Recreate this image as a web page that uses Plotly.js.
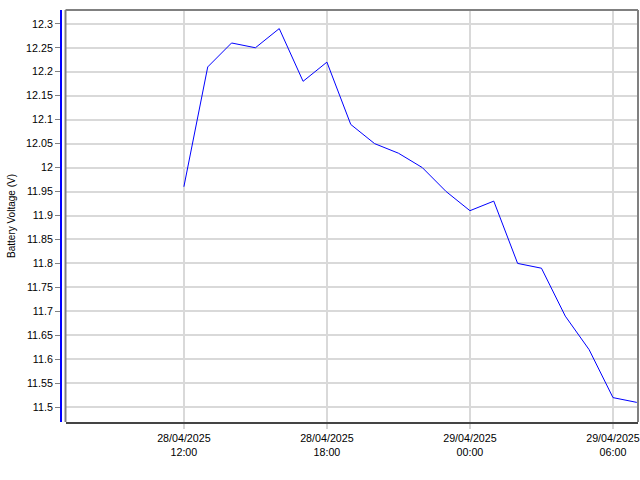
<!DOCTYPE html>
<html>
<head>
<meta charset="utf-8">
<script src="https://cdn.plot.ly/plotly-3.0.1.min.js"></script>
<style>html,body{margin:0;padding:0;background:#fff;}#chart{width:640px;height:480px;}</style>
</head>
<body>
<div id="chart"></div>
<script>
// Hourly battery voltage readings
const times = [
  '2025-04-28 12:00','2025-04-28 13:00','2025-04-28 14:00','2025-04-28 15:00',
  '2025-04-28 16:00','2025-04-28 17:00','2025-04-28 18:00','2025-04-28 19:00',
  '2025-04-28 20:00','2025-04-28 21:00','2025-04-28 22:00','2025-04-28 23:00',
  '2025-04-29 00:00','2025-04-29 01:00','2025-04-29 02:00','2025-04-29 03:00',
  '2025-04-29 04:00','2025-04-29 05:00','2025-04-29 06:00','2025-04-29 07:00'
];
const voltages = [
  11.96, 12.21, 12.26, 12.25,
  12.29, 12.18, 12.22, 12.09,
  12.05, 12.03, 12.00, 11.95,
  11.91, 11.93, 11.80, 11.79,
  11.69, 11.62, 11.52, 11.51
];
const xTickVals = ['2025-04-28 12:00','2025-04-28 18:00','2025-04-29 00:00','2025-04-29 06:00'];
const xTickText = ['28/04/2025<br>12:00','28/04/2025<br>18:00','29/04/2025<br>00:00','29/04/2025<br>06:00'];
const yTickVals = [11.5,11.55,11.6,11.65,11.7,11.75,11.8,11.85,11.9,11.95,12,12.05,12.1,12.15,12.2,12.25,12.3];
const yTickText = ['11.5','11.55','11.6','11.65','11.7','11.75','11.8','11.85','11.9','11.95','12','12.05','12.1','12.15','12.2','12.25','12.3'];
const xRange = ['2025-04-28 07:02','2025-04-29 07:03'];
const yRange = [11.4691, 12.3288];

const FONT = 'Liberation Sans, Arial, sans-serif';

const trace = {
  x: times, y: voltages, type: 'scatter', mode: 'lines',
  line: {color: '#0000ff', width: 1}, hoverinfo: 'skip'
};

const layout = {
  width: 640, height: 480,
  margin: {l: 61, r: 2, t: 10, b: 58, pad: 0},
  paper_bgcolor: '#ffffff', plot_bgcolor: '#ffffff',
  showlegend: false,
  font: {family: FONT, size: 10.7, color: '#000000'},
  xaxis: {
    type: 'date', range: xRange, domain: [0.0078, 1],
    tickmode: 'array', tickvals: xTickVals, ticktext: xTickText,
    ticks: 'outside', ticklen: 5, tickwidth: 2, tickcolor: '#d4d4d4',
    showgrid: true, gridcolor: '#d9d9d9', gridwidth: 2,
    showline: true, linecolor: '#444444', linewidth: 2,
    zeroline: false, tickfont: {family: FONT, size: 10.7, color: '#000'}
  },
  yaxis: {
    range: yRange, anchor: 'free', position: 0,
    tickmode: 'array', tickvals: yTickVals, ticktext: yTickText,
    ticks: 'outside', ticklen: 5, tickwidth: 1, tickcolor: '#808080',
    showgrid: true, gridcolor: '#d9d9d9', gridwidth: 2,
    showline: true, linecolor: '#0000ff', linewidth: 2,
    zeroline: false, tickfont: {family: FONT, size: 10.7, color: '#000'},
    title: {text: 'Battery Voltage (V)', font: {family: FONT, size: 10, color: '#000'}, standoff: 8}
  },
  shapes: [
    {type: 'line', xref: 'x domain', yref: 'paper', x0: 0, x1: 1, y0: 1, y1: 1, line: {color: '#808080', width: 2}},
    {type: 'line', xref: 'x domain', yref: 'paper', x0: 1, x1: 1, y0: 0, y1: 1, line: {color: '#808080', width: 2}},
    {type: 'line', xref: 'x domain', yref: 'paper', x0: 0, x1: 0, y0: 0, y1: 1, line: {color: '#808080', width: 2}}
  ]
};

Plotly.newPlot('chart', [trace], layout, {staticPlot: true, displayModeBar: false});
</script>
</body>
</html>
